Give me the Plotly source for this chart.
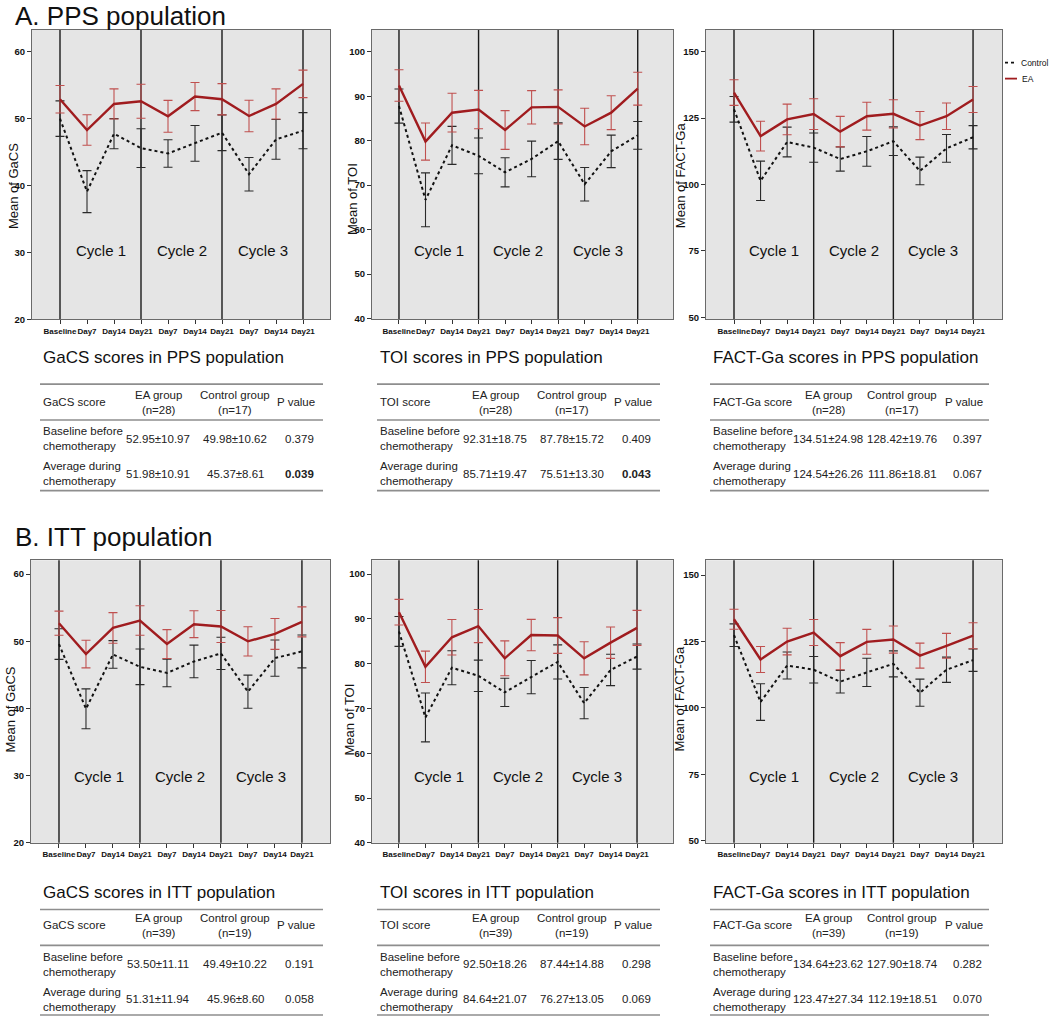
import plotly.graph_objects as go

# ---------------- data ----------------
categories = ["Baseline", "Day7", "Day14", "Day21", "Day7", "Day14", "Day21", "Day7", "Day14", "Day21"]
cycle_labels = ["Cycle 1", "Cycle 2", "Cycle 3"]

gacs_pps_ea = [52.9, 48.3, 52.2, 52.6, 50.35, 53.3, 52.9, 50.4, 52.2, 55.2]
gacs_pps_ea_ci = [2.05, 2.28, 2.25, 2.55, 2.38, 2.1, 2.33, 2.35, 2.25, 2.05]
gacs_pps_ctrl = [50.0, 39.1, 47.75, 45.6, 44.8, 46.3, 47.9, 41.7, 46.9, 48.2]
gacs_pps_ctrl_ci = [2.65, 3.14, 2.25, 2.9, 2.05, 2.67, 2.67, 2.5, 2.97, 2.7]

toi_pps_ea = [92.4, 79.8, 86.3, 87.0, 82.4, 87.5, 87.6, 83.2, 86.3, 91.7]
toi_pps_ea_ci = [3.54, 4.17, 4.36, 4.32, 4.36, 3.76, 3.84, 4.1, 3.8, 3.69]
toi_pps_ctrl = [87.8, 66.7, 78.95, 76.6, 72.9, 75.9, 79.9, 70.2, 77.6, 81.2]
toi_pps_ctrl_ci = [3.84, 6.07, 4.28, 4.02, 3.28, 4.0, 4.1, 3.76, 3.65, 3.13]

fact_pps_ea = [134.6, 118.2, 124.5, 126.5, 119.9, 125.7, 126.6, 122.2, 125.7, 132.0]
fact_pps_ea_ci = [4.8, 5.6, 5.75, 5.8, 5.74, 5.24, 5.3, 5.3, 5.0, 4.87]
fact_pps_ctrl = [128.3, 101.4, 116.0, 113.9, 109.6, 112.5, 116.3, 105.1, 113.6, 117.8]
fact_pps_ctrl_ci = [4.8, 7.4, 5.6, 5.5, 4.56, 5.6, 5.4, 5.2, 5.2, 4.37]

gacs_itt_ea = [52.7, 48.1, 52.0, 53.1, 49.6, 52.55, 52.2, 50.0, 51.1, 52.9]
gacs_itt_ea_ci = [1.8, 2.05, 2.28, 2.2, 2.15, 2.0, 2.38, 2.18, 2.3, 2.23]
gacs_itt_ctrl = [49.6, 39.95, 48.05, 46.2, 45.3, 47.0, 48.2, 42.5, 47.5, 48.5]
gacs_itt_ctrl_ci = [2.28, 2.97, 2.05, 2.65, 2.05, 2.43, 2.4, 2.47, 2.7, 2.45]

toi_itt_ea = [91.5, 79.3, 85.9, 88.4, 81.2, 86.4, 86.3, 81.2, 84.7, 88.0]
toi_itt_ea_ci = [2.86, 3.5, 3.97, 3.7, 3.9, 3.5, 4.0, 3.7, 3.5, 3.9]
toi_itt_ctrl = [87.2, 68.0, 79.1, 77.3, 73.6, 77.0, 80.4, 71.2, 78.6, 81.6]
toi_itt_ctrl_ci = [3.34, 5.46, 3.8, 3.5, 3.15, 3.7, 3.8, 3.5, 3.5, 2.8]

fact_itt_ea = [133.4, 118.25, 125.0, 128.4, 119.5, 124.9, 125.75, 119.7, 123.4, 127.2]
fact_itt_ea_ci = [3.75, 4.9, 5.0, 4.9, 5.1, 4.7, 5.1, 4.7, 4.7, 4.9]
fact_itt_ctrl = [127.4, 102.25, 116.0, 114.4, 109.9, 113.4, 116.6, 105.75, 114.4, 118.0]
fact_itt_ctrl_ci = [4.25, 6.9, 5.06, 5.0, 4.25, 5.3, 4.9, 5.1, 4.75, 4.2]

# tables: [EA, Control, P]
tab_headers = ["EA group", "Control group", "P value"]
row_labels = ["Baseline before<br>chemotherapy", "Average during<br>chemotherapy"]
gacs_pps_tab = [["52.95±10.97", "49.98±10.62", "0.379"], ["51.98±10.91", "45.37±8.61", "0.039"]]
toi_pps_tab = [["92.31±18.75", "87.78±15.72", "0.409"], ["85.71±19.47", "75.51±13.30", "0.043"]]
fact_pps_tab = [["134.51±24.98", "128.42±19.76", "0.397"], ["124.54±26.26", "111.86±18.81", "0.067"]]
gacs_itt_tab = [["53.50±11.11", "49.49±10.22", "0.191"], ["51.31±11.94", "45.96±8.60", "0.058"]]
toi_itt_tab = [["92.50±18.26", "87.44±14.88", "0.298"], ["84.64±21.07", "76.27±13.05", "0.069"]]
fact_itt_tab = [["134.64±23.62", "127.90±18.74", "0.282"], ["123.47±27.34", "112.19±18.51", "0.070"]]
pps_n = ("28", "17")
itt_n = ("39", "19")

# ---------------- layout helpers ----------------
W, H = 1050, 1022
OFF = 0
FONT = "Arial, Liberation Sans, sans-serif"
RED = "#a01c1f"
RED_BAR = "#c0504f"


def px(x):
    return (x - OFF) / W


def py(y):
    return 1 - (y - OFF) / H


def ann(text, x, y, size, xanchor="center", yanchor="middle", xref="paper", yref="paper", **kw):
    d = dict(text=text, x=x, y=y, xref=xref, yref=yref, xanchor=xanchor, yanchor=yanchor,
             showarrow=False, font=dict(family=FONT, size=size, color=kw.pop("color", "#111")))
    d.update(kw)
    return d


fig = go.Figure()

panels = [
    ("GaCS", gacs_pps_ea, gacs_pps_ea_ci, gacs_pps_ctrl, gacs_pps_ctrl_ci,
     (32, 330), (30, 321), [-1.037, 10.0], [20, 63.27], [20, 30, 40, 50, 60], (13, 187), 252),
    ("TOI", toi_pps_ea, toi_pps_ea_ci, toi_pps_ctrl, toi_pps_ctrl_ci,
     (372, 673), (30, 321), [-1.017, 10.33], [39.8, 104.93], [40, 50, 60, 70, 80, 90, 100], (352, 200), 252),
    ("FACT-Ga", fact_pps_ea, fact_pps_ea_ci, fact_pps_ctrl, fact_pps_ctrl_ci,
     (706, 1002), (30, 321), [-1.054, 10.09], [49.25, 158.2], [50, 75, 100, 125, 150], (680, 176), 252),
    ("GaCS", gacs_itt_ea, gacs_itt_ea_ci, gacs_itt_ctrl, gacs_itt_ctrl_ci,
     (31, 330), (563, 847), [-1.037, 10.04], [20, 62.07], [20, 30, 40, 50, 60], (11, 713), 780),
    ("TOI", toi_itt_ea, toi_itt_ea_ci, toi_itt_ctrl, toi_itt_ctrl_ci,
     (372, 673), (563, 847), [-1.02, 10.36], [40, 103.1], [40, 50, 60, 70, 80, 90, 100], (349, 723), 780),
    ("FACT-Ga", fact_itt_ea, fact_itt_ea_ci, fact_itt_ctrl, fact_itt_ctrl_ci,
     (706, 1002), (563, 847), [-1.054, 10.09], [49.25, 155.6], [50, 75, 100, 125, 150], (680, 702), 780),
]

xs = list(range(len(categories)))
annotations = []
shapes = []

for i, (name, ea, ea_ci, ctrl, ctrl_ci, xpix, ypix, xr, yr, ticks, tpos, cyc_y) in enumerate(panels):
    n = i + 1
    xa = "x" if n == 1 else f"x{n}"
    ya = "y" if n == 1 else f"y{n}"
    fig.add_trace(go.Scatter(
        x=xs, y=ctrl, mode="lines", name="Control", xaxis=xa, yaxis=ya, showlegend=False,
        line=dict(color="#111111", width=2, dash="dot"),
        error_y=dict(type="data", array=ctrl_ci, visible=True, color="#2a2a2a", thickness=1.1, width=4.5)))
    fig.add_trace(go.Scatter(
        x=xs, y=ea, mode="lines", name="EA", xaxis=xa, yaxis=ya, showlegend=False,
        line=dict(color=RED, width=2.4),
        error_y=dict(type="data", array=ea_ci, visible=True, color=RED_BAR, thickness=1.1, width=4.5)))

    axis_common = dict(showline=True, mirror=True, linecolor="#6a6a6a", linewidth=1,
                       showgrid=False, zeroline=False, ticks="outside", ticklen=4,
                       tickcolor="#333333", tickwidth=1)
    fig.update_layout(**{
        ("xaxis" if n == 1 else f"xaxis{n}"): dict(
            domain=[px(xpix[0]), px(xpix[1])], range=xr, anchor=ya,
            tickvals=xs, ticktext=categories, tickangle=0,
            tickfont=dict(family=FONT, size=8.0, color="#111", weight="bold"), **axis_common),
        ("yaxis" if n == 1 else f"yaxis{n}"): dict(
            domain=[py(ypix[1]), py(ypix[0])], range=yr, anchor=xa,
            tickvals=ticks, tickfont=dict(family=FONT, size=9.5, color="#111", weight="bold"),
            **axis_common),
    })
    for c in (0, 3, 6, 9):
        shapes.append(dict(type="line", xref=xa, yref=f"{ya} domain", x0=c, x1=c, y0=0, y1=1,
                           line=dict(color="#1a1a1a", width=1.4), layer="below"))
    for k, lab in enumerate(cycle_labels):
        annotations.append(ann(lab, 1.5 + 3 * k, py(cyc_y), 15, xref=xa))
    annotations.append(ann(f"Mean of {name}", px(tpos[0]), py(tpos[1]), 13, textangle=-90))

# legend (top-right panel)
shapes.append(dict(type="line", xref="paper", yref="paper", x0=px(1005), x1=px(1017), y0=py(63),
                   y1=py(63), line=dict(color="#111", width=1.8, dash="dot")))
shapes.append(dict(type="line", xref="paper", yref="paper", x0=px(1005), x1=px(1017), y0=py(79),
                   y1=py(79), line=dict(color=RED, width=1.8)))
annotations.append(ann("Control", px(1019), py(63), 8.5, xanchor="left"))
annotations.append(ann("EA", px(1020), py(79), 8.5, xanchor="left"))

# section titles
annotations.append(ann("A. PPS population", px(13), py(16), 26, xanchor="left"))
annotations.append(ann("B. ITT population", px(13), py(540), 26, xanchor="left"))


def draw_table(x0, x1, offs, title, score, n_vals, rows, ys, bold_p):
    t_y, l1, hdr, l2, r1, r2, l3 = ys
    annotations.append(ann(title, px(x0 + 1), py(t_y), 17, xanchor="left"))
    for ly in (l1, l2, l3):
        shapes.append(dict(type="line", xref="paper", yref="paper", x0=px(x0), x1=px(x1),
                           y0=py(ly), y1=py(ly), line=dict(color="#8e8e8e", width=1.6)))
    fs = 11.5
    annotations.append(ann(score, px(x0 + 1), py(hdr), fs, xanchor="left", color="#222"))
    hdr_txt = [f"{tab_headers[0]}<br>(n={n_vals[0]})", f"{tab_headers[1]}<br>(n={n_vals[1]})", tab_headers[2]]
    for j, t in enumerate(hdr_txt):
        annotations.append(ann(t, px(x0 + offs[j]), py(hdr), fs, color="#222", align="center"))
    for r, (lab, vals) in enumerate(zip(row_labels, rows)):
        ry = (r1, r2)[r]
        annotations.append(ann(lab, px(x0 + 1), py(ry), fs, xanchor="left", align="left", color="#222"))
        for j, v in enumerate(vals):
            txt = f"<b>{v}</b>" if (j == 2 and bold_p and r == 1) else v
            annotations.append(ann(txt, px(x0 + offs[j] + (3 if j == 2 else 0)), py(ry), fs, color="#222"))


top_ys = (359, 386, 404, 422, 441, 476, 493)
bot_ys = (897, 914, 930, 950, 969, 1004, 1020)
offs_a = (118, 195, 256)
offs_b = (118, 192, 254)

draw_table(40, 323, offs_a, "GaCS scores in PPS population", "GaCS score", pps_n, gacs_pps_tab, top_ys, True)
draw_table(377, 660, offs_a, "TOI scores in PPS population", "TOI score", pps_n, toi_pps_tab, top_ys, True)
draw_table(710, 989, offs_b, "FACT-Ga scores in PPS population", "FACT-Ga score", pps_n, fact_pps_tab, top_ys, False)
draw_table(40, 323, offs_a, "GaCS scores in ITT population", "GaCS score", itt_n, gacs_itt_tab, bot_ys, False)
draw_table(377, 660, offs_a, "TOI scores in ITT population", "TOI score", itt_n, toi_itt_tab, bot_ys, False)
draw_table(710, 989, offs_b, "FACT-Ga scores in ITT population", "FACT-Ga score", itt_n, fact_itt_tab, bot_ys, False)

fig.update_layout(
    width=W, height=H, margin=dict(l=0, r=0, t=0, b=0),
    paper_bgcolor="white", plot_bgcolor="#e5e5e5",
    font=dict(family=FONT, color="#111"),
    annotations=annotations, shapes=shapes, showlegend=False,
)

fig.write_html(
    "out.html",
    config={"displayModeBar": False},
    post_script="document.body.style.margin='0';document.body.style.overflow='hidden';",
)
